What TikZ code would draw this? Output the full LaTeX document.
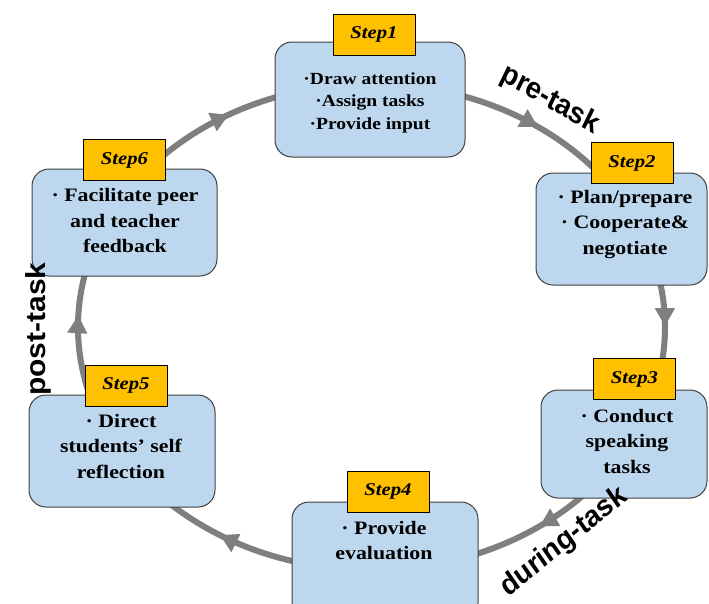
\documentclass[tikz,border=0pt]{standalone}
\usepackage{fontspec}
\setmainfont{Liberation Serif}[FakeStretch=1.15]
\newfontfamily\labelfont{Liberation Sans}
\usetikzlibrary{decorations.markings,arrows.meta}
\definecolor{ringgray}{HTML}{7F7F7F}
\definecolor{boxblue}{HTML}{BDD7EE}
\definecolor{boxedge}{HTML}{404040}
\definecolor{taggold}{HTML}{FFC000}
\tikzset{ringtip/.tip={Triangle[length=18pt,width=19pt,color=ringgray]}}
\begin{document}
\begin{tikzpicture}[x=1pt,y=-1pt,
  ring/.style={draw=ringgray, line width=6pt},
  stepbox/.style={draw=boxedge, line width=1pt, fill=boxblue, rounded corners=17pt, inner sep=0pt},
  tagbox/.style={draw=black, line width=0.8pt, fill=taggold, minimum width=82pt, minimum height=41pt, inner sep=0pt, font=\fontsize{18}{18}\selectfont\bfseries\itshape},
  boxtext/.style={align=center, font=\fontsize{19}{25.5}\selectfont\bfseries, inner sep=0pt},
  phase/.style={font=\labelfont\bfseries\fontsize{30}{30}\selectfont, inner sep=0pt, xscale=0.92}]
\clip (0,0) rectangle (709,603);
% ring with arrows
\path[ring, postaction={decorate}, decoration={markings,
  mark=at position 0.146 with {\arrow{ringtip}},
  mark=at position 0.343 with {\arrow{ringtip}},
  mark=at position 0.507 with {\arrow{ringtip}},
  mark=at position 0.663 with {\arrow{ringtip}},
  mark=at position 0.853 with {\arrow{ringtip}},
  mark=at position 0.9995 with {\arrow{ringtip}}}]
  (371.5,327) ellipse [x radius=293.5, y radius=243];
% boxes
\node[stepbox, minimum width=190pt, minimum height=115pt] (b1) at (370,99.5) {};
\node[stepbox, minimum width=171pt, minimum height=112pt] (b2) at (621.5,229) {};
\node[stepbox, minimum width=166pt, minimum height=108pt] (b3) at (624,444) {};
\node[stepbox, minimum width=186pt, minimum height=118pt] (b4) at (385,561) {};
\node[stepbox, minimum width=186pt, minimum height=112pt] (b5) at (122,451) {};
\node[stepbox, minimum width=185pt, minimum height=107pt] (b6) at (124.5,222.5) {};
% texts
\node[boxtext, font=\fontsize{17}{22.5}\selectfont\bfseries] (t1) at (370,102.5) {·Draw attention\\·Assign tasks\\·Provide input};
\node[boxtext] (t2) at (625,224) {· Plan/prepare\\· Cooperate\&\\negotiate};
\node[boxtext] (t3) at (627,441) {· Conduct\\speaking\\tasks};
\node[boxtext] (t4) at (384,540.5) {· Provide\\evaluation};
\node[boxtext] (t5) at (121,446) {· Direct\\students’ self\\reflection};
\node[boxtext] (t6) at (125,220.5) {· Facilitate peer\\and teacher\\feedback};
% tags
\node[tagbox] (s1) at (374,34.5) {Step1};
\node[tagbox] (s2) at (632,163) {Step2};
\node[tagbox] (s3) at (634.5,379) {Step3};
\node[tagbox] (s4) at (388,491.5) {Step4};
\node[tagbox] (s5) at (126,385.5) {Step5};
\node[tagbox] (s6) at (124.5,160) {Step6};
% phase labels
\node[phase, rotate=-28] (pre) at (550,100) {pre-task};
\node[phase, rotate=37] (during) at (564,542) {during-task};
\node[phase, rotate=90] (post) at (38,329) {post-task};
\end{tikzpicture}
\end{document}
